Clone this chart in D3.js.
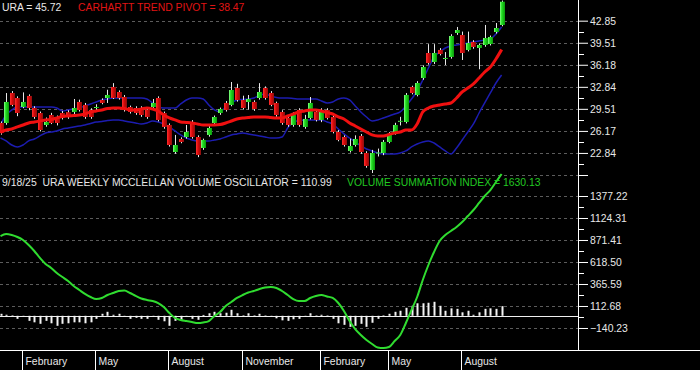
<!DOCTYPE html>
<html>
<head>
<meta charset="utf-8">
<script src="https://cdn.jsdelivr.net/npm/d3@7"></script>
<style>
  body { margin: 0; background: #000; }
  svg { display: block; }
  text { font-family: "Liberation Sans", Arial, sans-serif; font-size: 10.4px; }
</style>
</head>
<body>
<div id="chart"></div>
<script>
// weekly URA bars, first week 2024-01-05 .. last 2025-09-19
const opens  = [27.37,27.37,31.91,31.15,29.79,31.46,29.64,28.88,27.07,28.58,28.13,28.88,29.0,29.04,30.55,30.10,29.34,29.64,30.85,31.15,
                32.82,32.06,31.31,29.79,29.64,29.64,29.34,29.79,31.15,28.88,27.07,22.98,24.95,25.25,27.37,25.25,23.59,25.56,27.37,28.88,
                30.40,30.10,32.67,30.85,30.55,30.55,31.15,32.67,31.91,30.40,29.04,28.13,27.07,29.34,26.77,28.13,29.04,27.83,29.34,28.28,
                26.01,25.25,23.14,24.04,25.41,22.83,20.26,22.8,22.83,24.50,25.86,27.6,27.52,32.82,31.61,34.18,37.96,36.60,38.42,37.05,
                37.36,40.99,40.68,38.42,39.62,38.72,39.17,39.32,41.14,42.2];
const highs  = [27.6,31.9,32.2,31.4,32.0,31.7,29.9,29.1,28.2,28.9,28.5,29.2,29.3,31.0,30.9,30.4,29.6,30.2,31.1,32.4,
                33.4,32.3,31.6,30.0,29.9,29.9,29.6,31.0,31.4,29.1,27.3,25.56,25.2,27.07,27.8,25.5,25.0,26.9,28.5,29.7,
                30.7,33.57,33.3,31.5,31.6,30.8,33.4,32.9,32.2,30.6,29.3,28.4,29.0,29.6,28.6,31.3,29.4,29.6,29.6,28.5,
                26.3,25.5,25.0,25.5,25.7,23.1,23.3,23.5,24.8,26.0,27.4,28.3,31.9,33.0,33.7,36.1,39.3,39.3,38.7,38.1,
                40.8,41.9,41.2,41.2,39.9,39.4,42.2,40.6,42.5,45.9];
const lows   = [25.6,27.1,29.9,28.4,29.6,29.3,28.0,26.1,26.8,27.2,27.0,27.9,28.0,28.6,29.1,28.0,28.0,29.3,30.2,30.4,
                31.0,30.9,29.1,28.8,28.6,28.3,28.0,29.5,27.6,26.5,23.8,22.7,24.3,25.0,25.0,22.2,23.3,25.3,27.1,28.6,
                29.1,29.9,30.6,29.4,29.4,29.2,30.9,30.9,29.9,28.3,27.1,26.8,26.8,26.8,26.5,27.9,27.6,27.5,27.9,25.8,
                24.6,23.8,22.9,23.8,22.7,20.6,19.8,22.3,22.5,24.3,25.6,27.0,27.3,31.7,31.4,33.9,36.2,36.3,37.6,36.14,
                37.1,40.7,36.9,38.2,38.6,35.5,38.9,39.1,40.9,42.0];
const closes = [25.86,30.55,30.10,28.88,30.55,29.64,28.28,26.31,27.52,27.37,27.37,28.13,28.3,29.64,29.34,28.28,28.28,29.79,30.40,31.61,
                31.15,31.15,29.34,29.04,28.88,28.58,28.28,30.40,27.83,26.77,24.04,24.04,24.50,26.01,25.25,22.53,24.80,26.61,28.28,29.49,
                29.34,32.36,30.85,29.64,31.0,29.49,32.06,31.15,30.10,28.58,27.37,27.07,28.58,27.07,27.98,30.40,27.83,29.04,28.13,26.01,
                24.80,24.04,23.89,24.95,22.98,20.87,22.83,22.9,24.50,25.71,27.07,27.7,31.61,31.91,33.42,35.84,36.45,37.96,37.81,37.21,
                40.53,41.44,37.96,39.47,38.87,39.17,40.23,40.38,41.74,45.72];

const trendPivot = [25.96,26.31,26.46,26.77,27.07,27.37,27.52,27.67,27.83,27.9,28.13,28.35,28.43,28.5,28.58,28.73,29.04,29.19,29.34,29.56,
                    29.64,29.64,29.56,29.34,29.34,29.49,29.64,29.49,29.19,28.58,28.13,27.83,27.52,27.45,27.37,27.22,27.07,27.07,27.07,27.14,
                    27.37,27.67,27.98,28.13,28.2,28.28,28.28,28.28,28.2,28.13,28.13,28.43,28.73,29.04,29.19,29.34,29.34,29.19,28.96,28.73,
                    28.28,27.98,27.37,26.92,26.46,26.01,25.56,25.41,25.41,25.63,25.86,26.01,26.31,26.31,27.22,29.04,29.64,29.94,30.1,30.25,
                    30.40,31.15,32.06,32.67,33.27,34.18,35.09,35.84,37.05,38.47];
const bandUpper = [27.07,28.58,29.34,29.79,29.79,29.79,29.79,29.79,29.79,29.79,29.64,29.19,29.34,29.49,29.64,29.94,30.25,30.55,30.85,31.0,
                   31.15,31.15,31.15,31.15,31.15,31.15,31.0,30.4,29.79,29.64,29.64,29.64,30.25,30.85,31.15,31.15,31.0,30.1,29.34,29.04,
                   29.79,30.4,30.85,30.93,31.0,31.15,31.53,31.76,31.46,31.23,31.15,31.15,31.08,31.0,31.0,31.0,31.0,30.7,30.4,30.55,
                   31.0,31.15,30.85,29.94,29.04,28.28,27.67,27.83,28.13,28.43,28.73,29.04,29.94,31.0,32.21,33.88,35.69,37.36,38.11,38.72,
                   39.02,39.17,39.32,39.47,39.62,39.78,39.93,40.08,40.84,41.9];
const bandLower = [25.1,24.65,24.04,23.74,24.04,24.65,24.95,25.41,25.86,26.01,26.16,26.46,26.61,26.77,26.92,27.07,27.3,27.52,27.6,27.75,
                   27.83,27.83,27.67,27.52,27.37,27.22,27.37,27.67,27.52,27.22,26.77,26.16,25.56,25.1,24.8,24.65,24.65,24.65,24.8,24.95,
                   25.25,25.56,25.71,25.86,25.71,25.56,25.41,25.25,25.1,25.1,25.25,26.61,27.52,27.75,27.83,27.83,27.83,27.83,27.52,27.22,
                   26.46,25.71,25.1,24.5,23.89,23.44,23.14,22.83,22.68,22.68,22.68,22.83,23.14,23.74,24.19,24.5,24.65,24.34,23.74,23.14,
                   22.68,23.59,24.8,26.01,27.22,28.88,30.4,31.91,33.42,34.63];

const summationIndex = [917,940,929,906,871,814,745,665,596,550,492,446,400,343,297,251,216,193,205,239,
                        262,285,291,262,228,199,182,170,147,101,32,-25,-48,-60,-71,-83,-77,-60,-2,44,
                        113,159,205,239,268,285,308,325,331,320,285,239,193,170,170,205,228,239,222,205,
                        147,55,-60,-152,-221,-278,-324,-364,-370,-359,-290,-221,-83,67,216,412,584,734,860,929,
                        975,1021,1078,1147,1216,1297,1377,1446,1538,1630.13];
const oscillator = [23,12,6,-35,-8,-58,-75,-92,-58,-86,-115,-92,-86,-75,-75,-86,-75,-35,23,46,
                    12,23,-6,-35,-23,-35,-35,-6,-46,-63,-115,-58,-46,-8,-35,-46,10,29,46,29,
                    35,69,29,6,29,6,23,5,-6,-29,-52,-58,-40,-35,-5,29,5,12,5,-35,
                    -86,-104,-127,-115,-92,-127,-80,-35,6,23,46,58,92,115,144,144,150,161,115,58,
                    86,80,40,58,12,40,80,86,80,110.99];

const priceTicks = [22.84, 26.17, 29.51, 32.84, 36.18, 39.51, 42.85];
const priceBase = 19.50;
const volumeTicks = [-140.23, 112.68, 365.59, 618.50, 871.41, 1124.31, 1377.22];
const volumeTop = 1630.13;
const monthStarts = ["2024-02-01","2024-05-01","2024-08-01","2024-11-01","2025-02-01","2025-05-01","2025-08-01"];

const W = 700, H = 370, axisX = 578, split = 175, bottom = 350;
const weeks = d3.timeFriday.range(new Date(2024, 0, 5), new Date(2025, 8, 20));

const svg = d3.select("#chart").append("svg")
    .attr("width", W).attr("height", H);
svg.append("rect").attr("width", W).attr("height", H).attr("fill", "#000");

const defs = svg.append("defs");
function grad(id, stops) {
  const g = defs.append("linearGradient").attr("id", id)
      .attr("x1", "0%").attr("x2", "100%").attr("y1", "0%").attr("y2", "0%");
  stops.forEach(s => g.append("stop").attr("offset", s[0]).attr("stop-color", s[1]));
}
grad("gUp", [["0%", "#8cff8c"], ["35%", "#22e022"], ["100%", "#0a9a0a"]]);
grad("gDown", [["0%", "#ff3030"], ["45%", "#d80808"], ["100%", "#8a1010"]]);

// scales
const x = d3.scaleTime().domain([weeks[0], weeks[weeks.length - 1]]).range([0.5, 501.6]);
const yP = d3.scaleLinear().domain([priceBase, 46.19]).range([split, -1.4]);
const yV = d3.scaleLinear().domain([-393.14, volumeTop]).range([bottom, 174]);

// dashed grid
const grid = svg.append("g").attr("stroke", "#5c5c5c").attr("stroke-dasharray", "3,3").attr("stroke-width", 1);
[priceBase].concat(priceTicks).forEach(v => {
  const yy = Math.round(yP(v)) + 0.5;
  grid.append("line").attr("x1", 0).attr("x2", axisX).attr("y1", yy).attr("y2", yy);
});
volumeTicks.forEach(v => {
  const yy = Math.round(yV(v)) + 0.5;
  grid.append("line").attr("x1", 0).attr("x2", axisX).attr("y1", yy).attr("y2", yy);
});

// ---- top panel: bands, pivot, candles
const lineP = d3.line().x((d, i) => x(weeks[i])).y(d => yP(d)).curve(d3.curveMonotoneX);

svg.append("path").datum(bandUpper).attr("d", lineP)
    .attr("fill", "none").attr("stroke", "#1c1cb0").attr("stroke-width", 1.5);
svg.append("path").datum(bandLower).attr("d", lineP)
    .attr("fill", "none").attr("stroke", "#1c1cb0").attr("stroke-width", 1.5);

const candles = svg.append("g");
weeks.forEach((w, i) => {
  const cx = Math.round(x(w));
  const up = closes[i] >= opens[i];
  candles.append("line")
      .attr("x1", cx + 0.5).attr("x2", cx + 0.5)
      .attr("y1", yP(highs[i])).attr("y2", yP(lows[i]))
      .attr("stroke", "#e8e8e8").attr("stroke-width", 1);
  const top = yP(Math.max(opens[i], closes[i]));
  const bot = yP(Math.min(opens[i], closes[i]));
  candles.append("rect")
      .attr("x", cx - 2).attr("width", 5)
      .attr("y", top).attr("height", Math.max(1, bot - top))
      .attr("fill", up ? "url(#gUp)" : "url(#gDown)");
});

svg.append("path").datum(trendPivot).attr("d", lineP)
    .attr("fill", "none").attr("stroke", "#f01010").attr("stroke-width", 3);

// ---- bottom panel: oscillator bars + summation index
const zeroY = Math.round(yV(0)) + 0.5;
svg.append("line").attr("x1", 0).attr("x2", axisX).attr("y1", zeroY).attr("y2", zeroY)
    .attr("stroke", "#f0f0f0").attr("stroke-width", 1);

svg.append("g").selectAll("rect").data(oscillator).join("rect")
    .attr("x", (d, i) => Math.round(x(weeks[i])) - 0.5)
    .attr("width", 2)
    .attr("y", d => Math.min(yV(d), yV(0)))
    .attr("height", d => Math.abs(yV(d) - yV(0)))
    .attr("fill", "#f4f4f4");

const lineV = d3.line().x((d, i) => x(weeks[i])).y(d => yV(d)).curve(d3.curveMonotoneX);
svg.append("path").datum(summationIndex).attr("d", lineV)
    .attr("fill", "none").attr("stroke", "#30dc30").attr("stroke-width", 2);

// ---- right axes
const fmt = d3.format(".2f");
const axP = d3.axisRight(yP).tickValues(priceTicks).tickSize(10).tickPadding(2).tickFormat(fmt);
const axV = d3.axisRight(yV).tickValues(volumeTicks).tickSize(10).tickPadding(2).tickFormat(fmt);
[axP, axV].forEach(ax => {
  const g = svg.append("g").attr("transform", `translate(${axisX},0)`).call(ax);
  g.select(".domain").remove();
  g.selectAll("line").attr("stroke", "#fff");
  g.selectAll("text").attr("fill", "#e8e8e8").style("font-size", "10.4px")
      .style("font-family", '"Liberation Sans", Arial, sans-serif');
});
// tick at the panel split
svg.append("line").attr("x1", axisX).attr("x2", axisX + 10).attr("y1", split + 0.5).attr("y2", split + 0.5).attr("stroke", "#fff");
// minor ticks (midpoints)
const minors = [];
const pAll = [priceBase].concat(priceTicks);
for (let k = 0; k < pAll.length - 1; k++) minors.push(yP((pAll[k] + pAll[k + 1]) / 2));
for (let k = 0; k < volumeTicks.length - 1; k++) minors.push(yV((volumeTicks[k] + volumeTicks[k + 1]) / 2));
minors.forEach(yy => svg.append("line").attr("x1", axisX).attr("x2", axisX + 6)
    .attr("y1", Math.round(yy) + 0.5).attr("y2", Math.round(yy) + 0.5).attr("stroke", "#fff"));

svg.append("line").attr("x1", axisX + 0.5).attr("x2", axisX + 0.5).attr("y1", 0).attr("y2", bottom)
    .attr("stroke", "#fff");
svg.append("line").attr("x1", 0).attr("x2", W).attr("y1", bottom + 0.5).attr("y2", bottom + 0.5)
    .attr("stroke", "#fff");

// ---- month axis
const monthFmt = d3.timeFormat("%B");
monthStarts.forEach(m => {
  const d = d3.timeFriday.ceil(new Date(m + "T00:00:00"));
  const sx = Math.round(x(d)) - 1 + 0.5;
  svg.append("line").attr("x1", sx).attr("x2", sx).attr("y1", bottom).attr("y2", H).attr("stroke", "#fff");
  svg.append("text").attr("x", sx + 3).attr("y", 365).attr("fill", "#e8e8e8").text(monthFmt(d));
});

// ---- titles
svg.append("text").attr("x", 2).attr("y", 10.5).attr("fill", "#e8e8e8").text("URA = 45.72");
svg.append("text").attr("x", 78).attr("y", 10.5).attr("fill", "#e01414").text("CARHARTT TREND PIVOT = 38.47");
svg.append("text").attr("x", 2).attr("y", 186).attr("fill", "#e8e8e8")
    .attr("xml:space", "preserve").style("white-space", "pre")
    .text("9/18/25  URA WEEKLY MCCLELLAN VOLUME OSCILLATOR = 110.99");
svg.append("text").attr("x", 347).attr("y", 186).attr("fill", "#22c822")
    .text("VOLUME SUMMATION INDEX = 1630.13");
</script>
</body>
</html>
